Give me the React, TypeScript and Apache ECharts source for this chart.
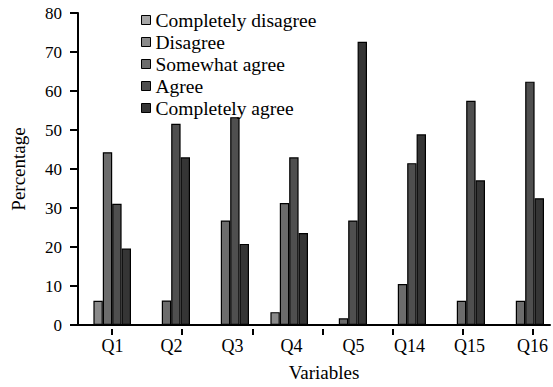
import React, { useEffect, useRef } from "react";
import * as echarts from "echarts";

const categories = ["Q1", "Q2", "Q3", "Q4", "Q5", "Q14", "Q15", "Q16"];
const seriesNames = ["Completely disagree", "Disagree", "Somewhat agree", "Agree", "Completely agree"];
const completelyDisagree: (number | null)[] = [null, null, null, null, null, null, null, null];
const disagree: (number | null)[] = [6.2, null, null, 3.3, null, null, null, null];
const somewhatAgree: (number | null)[] = [44.3, 6.3, 26.8, 31.3, 1.7, 10.5, 6.2, 6.2];
const agree: (number | null)[] = [31.1, 51.6, 53.3, 43, 26.8, 41.5, 57.5, 62.4];
const completelyAgree: (number | null)[] = [19.6, 43, 20.8, 23.6, 72.6, 48.9, 37.1, 32.5];
const yTicks = [0, 10, 20, 30, 40, 50, 60, 70, 80];

const colors = ["#a6a6a6", "#8a8a8a", "#6c6c6c", "#4f4f4f", "#353535"];
const labelShift = [5, 5, 7, 7, 10, 7, 8, 12];
const FONT = "Liberation Serif";

export default function App() {
  const ref = useRef<HTMLDivElement>(null);
  useEffect(() => {
    if (!ref.current) return;
    const chart = echarts.init(ref.current, undefined, { renderer: "svg" });
    const allData = [completelyDisagree, disagree, somewhatAgree, agree, completelyAgree];
    const rich: Record<string, any> = {};
    categories.forEach((c, i) => {
      rich["l" + i] = {
        fontFamily: FONT,
        fontSize: 18,
        color: "#000",
        padding: [0, 0, 0, labelShift[i] * 2],
      };
    });
    chart.setOption({
      animation: false,
      backgroundColor: "#fff",
      textStyle: { fontFamily: FONT },
      grid: [
        { left: 78, right: 3, top: 13, bottom: 58 },
        { left: 112, right: 20, top: 13, bottom: 58 },
      ],
      legend: {
        orient: "vertical",
        left: 141,
        top: 10,
        padding: 0,
        itemWidth: 9,
        itemHeight: 9,
        itemGap: 2,
        icon: "rect",
        data: seriesNames,
        itemStyle: { borderColor: "#000", borderWidth: 1 },
        textStyle: { fontFamily: FONT, fontSize: 19.5, color: "#000", lineHeight: 19.5 },
      },
      xAxis: [
        {
          type: "category",
          gridIndex: 0,
          data: categories,
          name: "Variables",
          nameLocation: "middle",
          nameGap: 38,
          nameTextStyle: { fontFamily: FONT, fontSize: 19, color: "#000", padding: [0, 0, 0, 20] },
          axisLine: { lineStyle: { color: "#000", width: 2 } },
          axisTick: { show: false },
          axisLabel: {
            margin: 12,
            fontFamily: FONT,
            formatter: (v: string) => {
              const i = categories.indexOf(v);
              return "{l" + i + "|" + v + "}";
            },
            rich,
          },
        },
        {
          type: "value",
          gridIndex: 1,
          min: 0,
          max: 6,
          interval: 1,
          axisLine: { show: false },
          axisTick: { show: true, length: 6, lineStyle: { color: "#000", width: 2 } },
          axisLabel: { show: false },
          splitLine: { show: false },
        },
      ],
      yAxis: [
        {
          type: "value",
          gridIndex: 0,
          min: yTicks[0],
          max: yTicks[yTicks.length - 1],
          interval: 10,
          name: "Percentage",
          nameLocation: "middle",
          nameGap: 50,
          nameTextStyle: { fontFamily: FONT, fontSize: 19, color: "#000" },
          axisLine: { show: true, lineStyle: { color: "#000", width: 2 } },
          axisTick: { show: true, length: 8, lineStyle: { color: "#000", width: 2 } },
          axisLabel: { margin: 16, fontFamily: FONT, fontSize: 17, color: "#000" },
          splitLine: { show: false },
        },
        {
          type: "value",
          gridIndex: 1,
          min: 0,
          max: 80,
          show: false,
          splitLine: { show: false },
        },
      ],
      series: seriesNames.map((name, i) => ({
        name,
        type: "bar",
        xAxisIndex: 0,
        yAxisIndex: 0,
        data: allData[i],
        barWidth: 9.4,
        barGap: "0%",
        itemStyle: { color: colors[i], borderColor: "#000", borderWidth: 1.2 },
      })),
    });
    return () => chart.dispose();
  }, []);
  return (
    <div
      ref={ref}
      style={{ position: "absolute", left: 0, top: 0, width: 553, height: 387 }}
    />
  );
}
